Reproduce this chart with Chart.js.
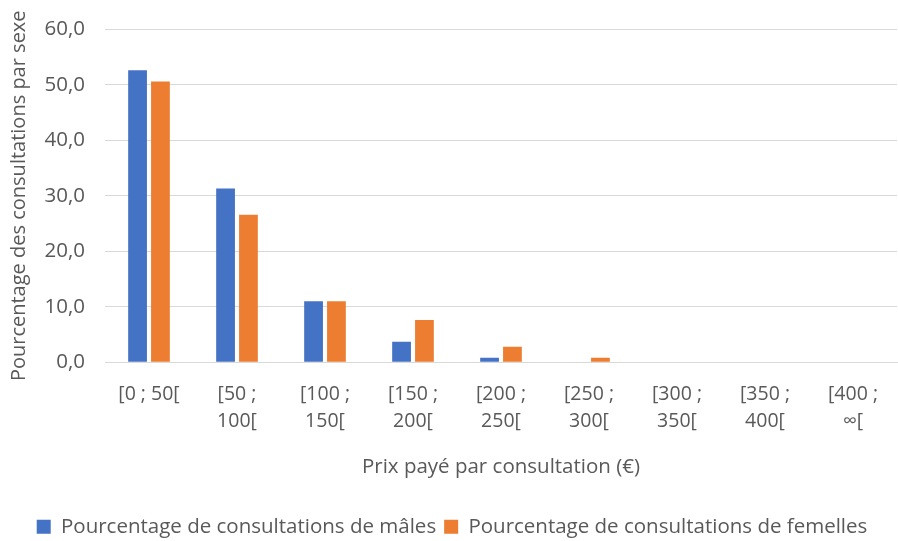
<!DOCTYPE html>
<html>
<head>
<meta charset="utf-8">
<script src="https://cdn.jsdelivr.net/npm/chart.js@4"></script>
<style>
  html, body { margin: 0; padding: 0; background: #fff; }
  #wrap { width: 898px; height: 541px; }
</style>
</head>
<body>
<div id="wrap"><canvas id="chart" width="898" height="541"></canvas></div>
<script>
const categories = [
  ['[0 ; 50['], ['[50 ;', '100['], ['[100 ;', '150['], ['[150 ;', '200['],
  ['[200 ;', '250['], ['[250 ;', '300['], ['[300 ;', '350['], ['[350 ;', '400['], ['[400 ;', '∞[']
]
const males = [52.6, 31.3, 11.0, 3.7, 0.8, 0.1, 0.0, 0.1, 0.0]
const females = [50.6, 26.6, 11.0, 7.6, 2.8, 0.8, 0.1, 0.0, 0.0]
const yTicks = [0, 10, 20, 30, 40, 50, 60]

const txt = '#595959'
const font = "'Open Sans', 'Noto Sans', sans-serif"

const ctx = document.getElementById('chart').getContext('2d')
new Chart(ctx, {
  type: 'bar',
  data: {
    labels: categories,
    datasets: [{
      label: 'Pourcentage de consultations de mâles',
      data: males,
      backgroundColor: '#4472c4',
      barPercentage: 0.82,
      categoryPercentage: 0.52
    }, {
      label: 'Pourcentage de consultations de femelles',
      data: females,
      backgroundColor: '#ed7d31',
      barPercentage: 0.82,
      categoryPercentage: 0.52
    }]
  },
  options: {
    responsive: false,
    animation: false,
    layout: { padding: { top: 4, right: 1, left: 7, bottom: -6 } },
    plugins: {
      legend: {
        position: 'bottom',
        labels: {
          color: txt,
          font: { family: font, size: 20.5 },
          boxWidth: 14,
          boxHeight: 14,
          padding: 8
        }
      },
      tooltip: { enabled: false }
    },
    scales: {
      x: {
        grid: { display: false },
        border: { color: '#d9d9d9', width: 1 },
        ticks: {
          color: txt,
          font: { family: font, size: 19.5, lineHeight: 1.4 },
          maxRotation: 0,
          autoSkip: false,
          padding: 10
        },
        title: {
          display: true,
          text: 'Prix payé par consultation (€)',
          color: txt,
          font: { family: font, size: 20.5 },
          padding: { top: 10, bottom: 29 }
        }
      },
      y: {
        min: 0,
        max: 60,
        afterBuildTicks: axis => { axis.ticks = yTicks.map(v => ({ value: v })) },
        afterFit: axis => { axis.width = 98 },
        grid: { color: '#d9d9d9', drawTicks: false },
        border: { display: false },
        ticks: {
          color: txt,
          font: { family: font, size: 20.5, lineHeight: 0.9 },
          padding: 20,
          callback: v => v.toFixed(1).replace('.', ',')
        },
        title: {
          display: true,
          text: 'Pourcentage des consultations par sexe',
          color: txt,
          font: { family: font, size: 20 },
          padding: { top: 0, bottom: 0 }
        }
      }
    }
  }
})
</script>
</body>
</html>
